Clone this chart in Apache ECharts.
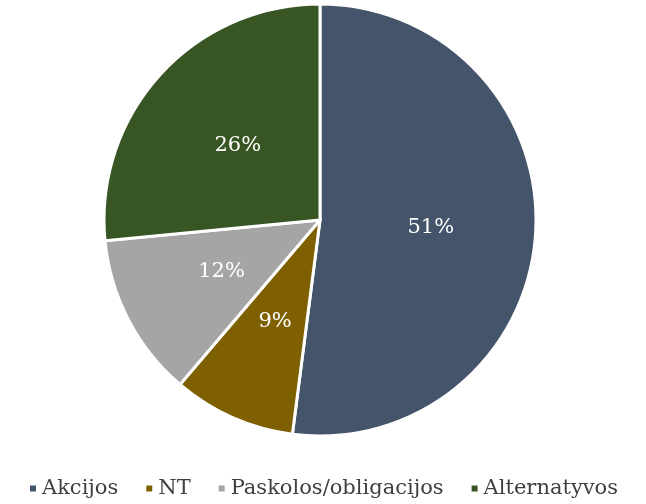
<!DOCTYPE html>
<html>
<head>
<meta charset="utf-8">
<script src="https://cdn.jsdelivr.net/npm/echarts@6/dist/echarts.min.js"></script>
<style>
  html, body { margin: 0; padding: 0; background: #fff; }
  #chart { width: 646px; height: 504px; }
</style>
</head>
<body>
<div id="chart"></div>
<script>
// kategorijos ir reikšmės (%)
const categories = ['Akcijos', 'NT', 'Paskolos/obligacijos', 'Alternatyvos'];
const shares = [51, 9, 12, 26];
const colors = ['#44546A', '#7F6000', '#A5A5A5', '#375623'];

const chart = echarts.init(document.getElementById('chart'));
chart.setOption({
  animation: false,
  color: colors,
  legend: {
    data: categories,
    bottom: 0,
    left: 'center',
    icon: 'rect',
    itemWidth: 8,
    itemHeight: 8,
    itemGap: 26,
    textStyle: { fontFamily: 'DejaVu Serif', fontSize: 21, color: '#404040' }
  },
  series: [
    {
      type: 'pie',
      center: [320, 220],
      radius: [0, 216],
      startAngle: 90,
      clockwise: true,
      itemStyle: { borderColor: '#fff', borderWidth: 3 },
      label: {
        show: true,
        position: 'inside',
        formatter: '{c}%',
        color: '#fff',
        fontFamily: 'DejaVu Serif',
        fontSize: 21
      },
      labelLine: { show: false },
      data: categories.map((name, i) => ({ name, value: shares[i] }))
    }
  ]
});
</script>
</body>
</html>
